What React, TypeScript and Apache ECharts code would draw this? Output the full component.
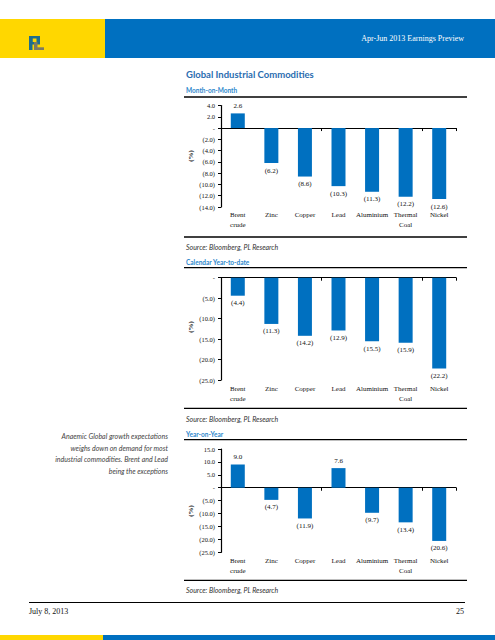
import React, { useEffect, useRef } from "react";
import * as echarts from "echarts";

const categories = ["Brent\ncrude", "Zinc", "Copper", "Lead", "Aluminium", "Thermal\nCoal", "Nickel"];
const momValues = [2.6, -6.2, -8.6, -10.3, -11.3, -12.2, -12.6];
const ytdValues = [-4.4, -11.3, -14.2, -12.9, -15.5, -15.9, -22.2];
const yoyValues = [9.0, -4.7, -11.9, 7.6, -9.7, -13.4, -20.6];

const momAxis = { min: -14, max: 4, interval: 2 };
const ytdAxis = { min: -25, max: 0, interval: 5 };
const yoyAxis = { min: -25, max: 15, interval: 5 };

const SERIF = "Liberation Serif";
const SANS = "Lato";
const BAR = "#0070C0";

const fmt = (v: number) => (Math.abs(v) < 1e-9 ? "-" : v < 0 ? "(" + Math.abs(v).toFixed(1) + ")" : v.toFixed(1));

export default function App() {
  const ref = useRef<HTMLDivElement>(null);
  useEffect(() => {
    if (!ref.current) return;
    const chart = echarts.init(ref.current, null, { renderer: "svg" });

    const panels = [
      { values: momValues, axis: momAxis, top: 105.5, height: 101.5, labelMargin: 3 },
      { values: ytdValues, axis: ytdAxis, top: 277.7, height: 102.3, labelMargin: 4 },
      { values: yoyValues, axis: yoyAxis, top: 449, height: 103.3, labelMargin: 4 },
    ];

    const grids: any[] = [];
    const xAxes: any[] = [];
    const yAxes: any[] = [];
    const series: any[] = [];

    panels.forEach((p, i) => {
      grids.push({ left: 221, top: p.top, width: 235, height: p.height });
      xAxes.push({
        gridIndex: i,
        type: "category",
        data: categories,
        position: "bottom",
        axisLine: { show: false, onZero: false },
        axisTick: { show: false },
        axisLabel: { interval: 0, fontFamily: SERIF, fontSize: 7, color: "#111", margin: p.labelMargin, lineHeight: 10 },
      });
      xAxes.push({
        gridIndex: i,
        type: "category",
        data: categories,
        position: "bottom",
        axisLine: { show: true, onZero: true, lineStyle: { color: "#000", width: 1.2 } },
        axisTick: { show: true, length: 3, lineStyle: { color: "#000", width: 1 } },
        axisLabel: { show: false },
      });
      yAxes.push({
        gridIndex: i,
        type: "value",
        min: p.axis.min,
        max: p.axis.max,
        interval: p.axis.interval,
        axisLine: { show: true, lineStyle: { color: "#000", width: 1.2 } },
        axisTick: { show: true, length: 3, lineStyle: { color: "#000" } },
        splitLine: { show: false },
        axisLabel: { formatter: fmt, fontFamily: SERIF, fontSize: 6.5, color: "#111", margin: 6 },
      });
      series.push({
        type: "bar",
        xAxisIndex: i * 2,
        yAxisIndex: i,
        barWidth: 14,
        itemStyle: { color: BAR },
        data: p.values.map((v) => ({ value: v, label: { position: v >= 0 ? "top" : "bottom" } })),
        label: {
          show: true,
          distance: 4,
          formatter: (d: any) => fmt(d.value),
          fontFamily: SERIF,
          fontSize: 7,
          color: "#111",
        },
      });
    });

    const text = (t: string, x: number, y: number, opts: any = {}) => ({
      type: "text",
      silent: true,
      style: {
        text: t,
        x,
        y,
        textAlign: opts.align || "left",
        textVerticalAlign: "middle",
        fontFamily: opts.family || SANS,
        fontSize: opts.size || 7,
        fontWeight: opts.weight || "normal",
        fontStyle: opts.style || "normal",
        fill: opts.color || "#222",
      },
    });
    const hline = (x1: number, x2: number, y: number, w = 1.3) => ({
      type: "line",
      silent: true,
      shape: { x1, y1: y, x2, y2: y },
      style: { stroke: "#000", lineWidth: w },
    });
    const rect = (x: number, y: number, w: number, h: number, fill: string) => ({
      type: "rect",
      silent: true,
      shape: { x, y, width: w, height: h },
      style: { fill },
    });
    const ylabel = (cy: number) => ({
      type: "text",
      silent: true,
      x: 191,
      y: cy,
      rotation: Math.PI / 2,
      style: {
        text: "(%)",
        x: 0,
        y: 0,
        textAlign: "center",
        textVerticalAlign: "middle",
        fontFamily: SERIF,
        fontSize: 7,
        fontWeight: "bold",
        fill: "#111",
      },
    });

    const TITLE = "#2A6DB0";
    const SUB = "#2E88CC";
    const SRC = "#333";

    const graphic: any[] = [
      rect(0, 19, 105, 39, "#FFD700"),
      rect(105, 19, 390, 39, "#0070C0"),
      rect(0, 635, 103, 5, "#FFD700"),
      rect(103, 635, 392, 5, "#0070C0"),
      // logo
      rect(29, 36, 11, 8.5, "#1F6E8C"),
      rect(32.5, 38.5, 4, 3.5, "#FFD700"),
      rect(29, 36, 3.5, 14, "#1F6E8C"),
      rect(34, 42, 3.5, 8, "#7D7B62"),
      rect(34, 47.3, 10, 2.7, "#7D7B62"),
      text("Apr-Jun 2013 Earnings Preview", 464, 38.5, { align: "right", family: SERIF, size: 8, color: "#fff" }),
      text("Global Industrial Commodities", 186, 74, { size: 9.5, weight: "bold", color: TITLE }),
      text("Month-on-Month", 186, 90.7, { size: 6.5, weight: "bold", color: SUB }),
      hline(184, 467, 97),
      hline(184, 467, 237),
      text("Source: Bloomberg, PL Research", 186, 246.7, { style: "italic", color: SRC }),
      text("Calendar Year-to-date", 186, 262.3, { size: 6.5, weight: "bold", color: SUB }),
      hline(184, 467, 267.7),
      hline(184, 467, 408.3),
      text("Source: Bloomberg, PL Research", 186, 418.8, { style: "italic", color: SRC }),
      text("Year-on-Year", 186, 434, { size: 6.5, weight: "bold", color: SUB }),
      hline(184, 467, 439.7),
      hline(184, 467, 580.3),
      text("Source: Bloomberg, PL Research", 186, 590.3, { style: "italic", color: SRC }),
      ylabel(156),
      ylabel(327),
      ylabel(511),
      text("Anaemic Global growth expectations", 168, 436.3, { align: "right", style: "italic", color: "#444" }),
      text("weighs down on demand for most", 168, 447.7, { align: "right", style: "italic", color: "#444" }),
      text("industrial commodities. Brent and Lead", 168, 459.1, { align: "right", style: "italic", color: "#444" }),
      text("being the exceptions", 168, 470.5, { align: "right", style: "italic", color: "#444" }),
      hline(29, 465, 602.5, 1),
      text("July 8, 2013", 29, 611, { family: SERIF, size: 8, color: "#111" }),
      text("25", 464, 611, { align: "right", family: SERIF, size: 8, color: "#111" }),
    ];

    chart.setOption({
      animation: false,
      backgroundColor: "#fff",
      grid: grids,
      xAxis: xAxes,
      yAxis: yAxes,
      series,
      graphic,
    });
    return () => chart.dispose();
  }, []);
  return <div ref={ref} style={{ position: "absolute", left: 0, top: 0, width: 495, height: 640 }} />;
}
